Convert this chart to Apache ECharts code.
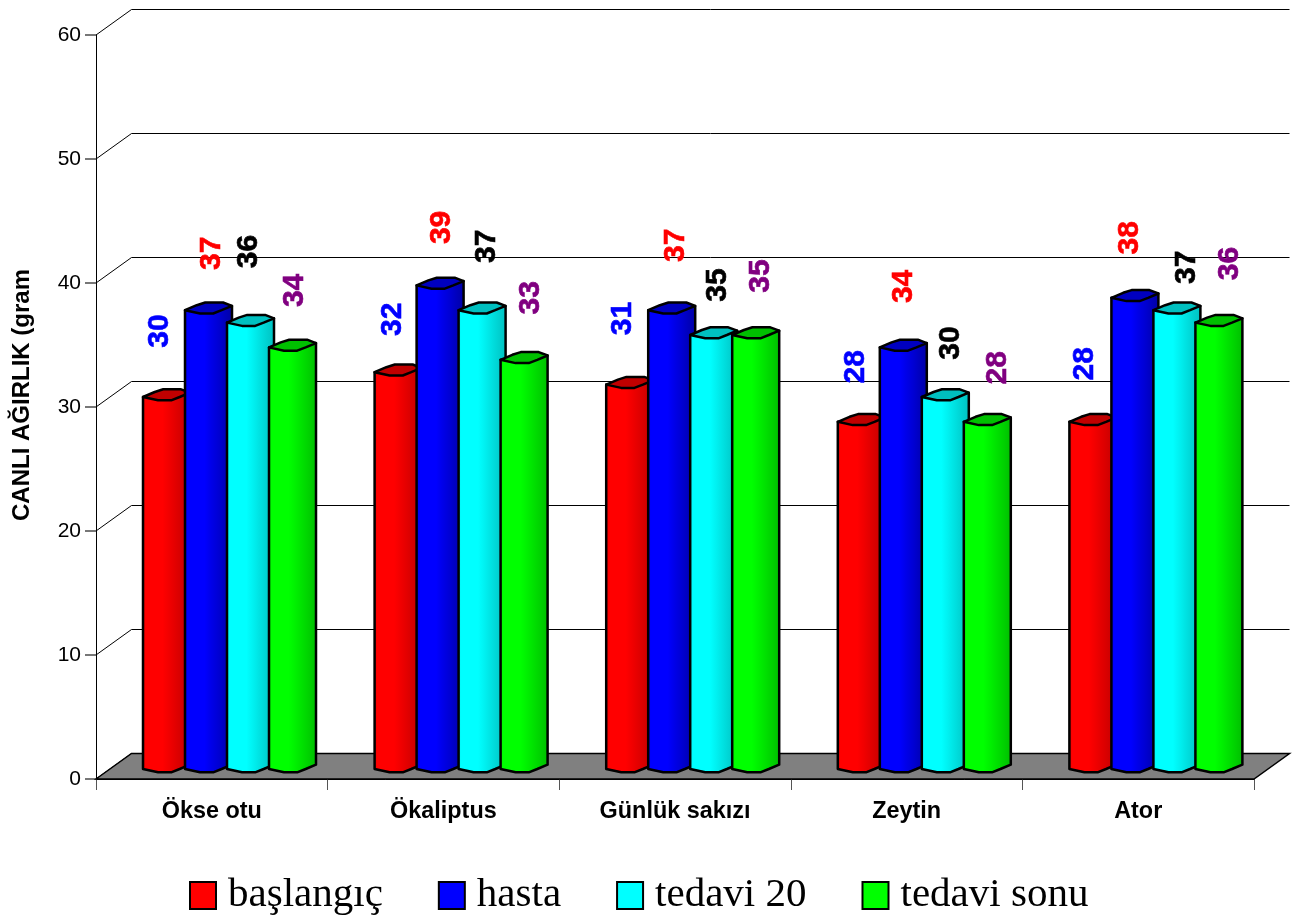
<!DOCTYPE html>
<html>
<head>
<meta charset="utf-8">
<style>html,body{margin:0;padding:0;background:#fff}#chart{width:1295px;height:921px}</style>
<script src="https://cdn.jsdelivr.net/npm/echarts@6/dist/echarts.min.js"></script>
</head>
<body>
<div id="chart"></div>
<script>
// Body weight per plant group at four stages of the study.
const categories = ['Ökse otu', 'Ökaliptus', 'Günlük sakızı', 'Zeytin', 'Ator'];
const baslangic = [30, 32, 31, 28, 28];
const hasta = [37, 39, 37, 34, 38];
const tedavi20 = [36, 37, 35, 30, 37];
const tedaviSonu = [34, 33, 35, 28, 36];
const yTicks = [0, 10, 20, 30, 40, 50, 60];

// Hand-placed value labels: [dx, dy] from the top centre of each column, by stage then plant.
const labelShifts = [
  [[-7, -76], [-5, -63], [-7, -76], [-6, -65], [-8, -68]],
  [[3, -67], [2, -68], [4, -75], [0, -71], [-5, -70]],
  [[-2, -81], [5, -74], [4, -60], [5, -64], [10, -53]],
  [[2, -67], [7, -72], [5, -69], [10, -64], [11, -69]]
];

const stages = [
  { name: 'başlangıç', values: baslangic, text: '#0000ff', top: '#c00000', swatch: '#ff0000',
    body: ['#e00000', '#ff0000', '#ff0000', '#f00000', '#e00000', '#d00000', '#c00000'] },
  { name: 'hasta', values: hasta, text: '#ff0000', top: '#0000c0', swatch: '#0000ff',
    body: ['#0000e0', '#0000ff', '#0000ff', '#0000e8', '#0000d4', '#0000bc', '#0000a4'] },
  { name: 'tedavi 20', values: tedavi20, text: '#000000', top: '#00c0c0', swatch: '#00ffff',
    body: ['#00f0f0', '#00ffff', '#00ffff', '#00f0f0', '#00e0e0', '#00d0d0', '#00c0c0'] },
  { name: 'tedavi sonu', values: tedaviSonu, text: '#800080', top: '#00c000', swatch: '#00ff00',
    body: ['#00e800', '#00ff00', '#00ff00', '#00f000', '#00e000', '#00d000', '#00bc00'] }
];

const FONT = '"Liberation Sans", Arial, sans-serif';
const DEPTH_X = 35.5, DEPTH_Y = 25.5;

// Column layout, as fractions of one category band.
const COLUMN_START = -68.8 / 231.6;
const COLUMN_STEP = 42 / 231.6;
const COLUMN_WIDTH = 47 / 231.6;

// Outline of a column cap, relative to its left edge and value height (x as a share of width).
const capRim = [
  [0, -10], [0.25, -15], [0.43, -17.7], [0.81, -17.7], [1, -14.3],
  [0.78, -10], [0.6, -6.7], [0.32, -6.7]
];

function renderFrame(params, api) {
  const cs = params.coordSys;
  const y = api.coord([0, api.value(0)])[1];
  const left = cs.x, right = cs.x + cs.width;
  const line = (x1, y1, x2, y2) => ({
    type: 'line',
    shape: { x1, y1, x2, y2 },
    style: { stroke: '#000', lineWidth: 1 }
  });
  const children = [
    line(left, y, left + DEPTH_X, y - DEPTH_Y),
    line(left + DEPTH_X, y - DEPTH_Y, right + DEPTH_X, y - DEPTH_Y)
  ];
  if (api.value(0) === 0) {
    children.push({
      type: 'polygon',
      shape: { points: [[left, y], [left + DEPTH_X, y - DEPTH_Y], [right + DEPTH_X, y - DEPTH_Y], [right, y]] },
      style: { fill: '#808080', stroke: '#000', lineWidth: 1.5 }
    });
  }
  return { type: 'group', children };
}

function renderColumn(stageIndex) {
  const stage = stages[stageIndex];
  return function (params, api) {
    const band = api.size([1, 0])[0];
    const [cx, yTop] = api.coord([api.value(0), api.value(1)]);
    const yBase = api.coord([api.value(0), 0])[1];
    const x0 = cx + band * (COLUMN_START + COLUMN_STEP * stageIndex);
    const w = band * COLUMN_WIDTH;
    const rim = (p, y) => [x0 + p[0] * w, y + p[1]];
    const frontRim = [capRim[0], capRim[7], capRim[6], capRim[5], capRim[4]];
    const bodyPoints = [
      rim(capRim[0], yTop),
      ...frontRim.map(p => rim(p, yBase)),
      rim(capRim[4], yTop)
    ];
    const shift = labelShifts[stageIndex][params.dataIndex];
    const stops = [0, 0.08, 0.42, 0.56, 0.7, 0.84, 1];
    return {
      type: 'group',
      children: [
        {
          type: 'polygon',
          shape: { points: bodyPoints },
          style: {
            fill: new echarts.graphic.LinearGradient(0, 0, 1, 0,
              stage.body.map((color, i) => ({ offset: stops[i], color }))),
            stroke: '#000', lineWidth: 2.5, lineJoin: 'round'
          }
        },
        {
          type: 'polygon',
          shape: { points: capRim.map(p => rim(p, yTop)) },
          style: { fill: stage.top, stroke: '#000', lineWidth: 2.5, lineJoin: 'round' }
        },
        {
          type: 'text',
          x: x0 + w / 2 + shift[0],
          y: yTop + shift[1],
          rotation: Math.PI / 2,
          style: {
            text: String(api.value(1)),
            fill: stage.text,
            stroke: stage.text,
            lineWidth: 0.6,
            font: 'bold 30px ' + FONT,
            align: 'center',
            verticalAlign: 'middle'
          }
        }
      ]
    };
  };
}

const chart = echarts.init(document.getElementById('chart'), null, { renderer: 'canvas' });
chart.setOption({
  backgroundColor: '#fff',
  animation: false,
  grid: { left: 96, top: 35, width: 1158, height: 744, containLabel: false, outerBoundsMode: 'none' },
  legend: {
    data: stages.map(s => s.name),
    left: 184,
    top: 870,
    icon: 'rect',
    itemWidth: 26,
    itemHeight: 27,
    itemGap: 55,
    selectedMode: false,
    itemStyle: { borderColor: '#000', borderWidth: 2 },
    textStyle: { fontFamily: '"Liberation Serif", "Times New Roman", serif', fontSize: 41, color: '#000', padding: [10, 0, 0, 7] }
  },
  xAxis: {
    type: 'category',
    data: categories,
    boundaryGap: true,
    axisLine: { lineStyle: { color: '#000', width: 1 } },
    axisTick: { show: true, length: 11, alignWithLabel: false, lineStyle: { color: '#555', width: 1 } },
    axisLabel: { interval: 0, margin: 21, color: '#000', fontFamily: FONT, fontWeight: 'bold', fontSize: 23.4 }
  },
  yAxis: {
    type: 'value',
    min: 0,
    max: 60,
    interval: 10,
    name: 'CANLI AĞIRLIK (gram',
    nameLocation: 'middle',
    nameGap: 62,
    nameRotate: 90,
    nameTextStyle: { color: '#000', fontFamily: FONT, fontWeight: 'bold', fontSize: 24, padding: [0, 0, 0, 24] },
    axisLine: { show: true, lineStyle: { color: '#000', width: 1 } },
    axisTick: { show: true, length: 11, lineStyle: { color: '#777', width: 2 } },
    axisLabel: { margin: 15, color: '#000', fontFamily: FONT, fontSize: 21, padding: [4, 0, 0, 0] },
    splitLine: { show: false }
  },
  series: [
    {
      name: 'frame',
      type: 'custom',
      silent: true,
      z: 1,
      data: yTicks.map(v => [v]),
      encode: { y: 0 },
      renderItem: renderFrame
    },
    ...stages.map((stage, i) => ({
      name: stage.name,
      type: 'custom',
      silent: true,
      z: 2 + i,
      itemStyle: { color: stage.swatch },
      data: stage.values.map((v, c) => [c, v]),
      encode: { x: 0, y: 1 },
      renderItem: renderColumn(i)
    }))
  ]
});
</script>
</body>
</html>
